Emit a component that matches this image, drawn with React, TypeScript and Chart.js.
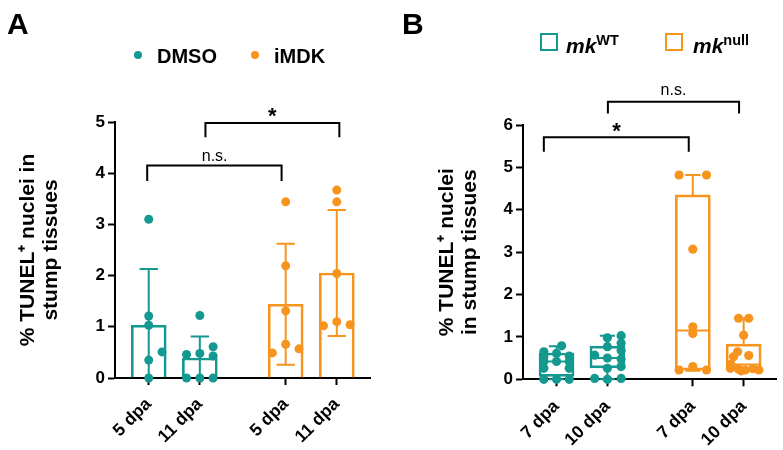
import React, { useEffect, useRef } from 'react';
import { Chart, registerables } from 'chart.js';

Chart.register(...registerables);

const TEAL = '#13998f';
const ORANGE = '#f7941d';
const BLACK = '#000000';
const FONT = "'Liberation Sans', Arial, Helvetica, sans-serif";

// ---------------- Panel A data (mean ± SD with individual points) ----------------
const aCategories = ['5 dpa', '11 dpa', '5 dpa', '11 dpa'];
const aMeans = [1.03, 0.39, 1.44, 2.05];
const aSD = [1.1, 0.42, 1.18, 1.23];
const aDmso5 = [3.1, 1.21, 1.03, 0.51, 0.35, 0];
const aDmso11 = [1.22, 0.61, 0.48, 0.46, 0.43, 0, 0, 0];
const aImdk5 = [3.44, 2.19, 1.31, 0.66, 0.57, 0.49];
const aImdk11 = [3.67, 3.44, 2.04, 1.1, 1.04, 1.02];

// ---------------- Panel B data (box & whiskers, min to max, with points) ----------------
const bCategories = ['7 dpa', '10 dpa', '7 dpa', '10 dpa'];
const bMin = [0, 0, 0.2, 0.2];
const bQ1 = [0.07, 0.27, 0.22, 0.22];
const bMedian = [0.42, 0.5, 1.15, 0.35];
const bQ3 = [0.62, 0.78, 4.35, 0.83];
const bMax = [0.78, 1.03, 4.82, 1.44];
const bWt7 = [0.79, 0.65, 0.61, 0.55, 0.53, 0.42, 0.42, 0.42, 0.26, 0.26, 0, 0, 0];
const bWt10 = [1.03, 0.98, 0.85, 0.77, 0.68, 0.57, 0.5, 0.48, 0.3, 0.26, 0.02, 0.02, 0];
const bNull7 = [4.82, 4.82, 3.07, 1.24, 1.08, 0.3, 0.22, 0.22];
const bNull10 = [1.44, 1.44, 1.04, 0.65, 0.56, 0.53, 0.35, 0.26, 0.24, 0.22, 0.25, 0.22, 0.2];

// ---------------- layout (positions of groups, point jitter, annotation geometry) ----------------
const groupX = [0, 1, 2.68, 3.68];
const X_MIN = -0.66;
const X_MAX = 4.33;

const aDmso5Jit = [0, 0, 0, 0.26, 0, 0];
const aDmso11Jit = [0, 0.26, 0, -0.26, 0.26, -0.26, 0, 0.26];
const aImdk5Jit = [0, 0, 0, 0, 0.26, -0.26];
const aImdk11Jit = [0, 0, 0, 0, 0.26, -0.26];

const bWt7Jit = [0.1, -0.25, 0, 0.25, -0.25, -0.25, 0, 0.25, -0.25, 0.25, -0.25, 0, 0.25];
const bWt10Jit = [0.27, 0, 0.27, 0, 0.27, -0.25, 0, 0.27, 0.27, 0, -0.25, 0.27, 0];
const bNull7Jit = [-0.27, 0.27, 0, 0, 0, 0, -0.27, 0.27];
const bNull10Jit = [-0.1, 0.1, 0, -0.12, 0.1, -0.2, -0.25, -0.26, -0.1, 0.03, 0.18, 0.3, -0.05];

type Bracket = { x1: number; x2: number; y: number; drop: number };
type TextItem = { text: string; x: number; y: number; font: string };

const aBrackets: Bracket[] = [
  { x1: -0.03, x2: 2.6, y: 4.15, drop: 3.85 },
  { x1: 1.11, x2: 3.73, y: 4.98, drop: 4.7 },
];
const aTexts: TextItem[] = [
  { text: 'n.s.', x: 1.29, y: 4.33, font: `16px ${FONT}` },
  { text: '*', x: 2.42, y: 5.1, font: `bold 22px ${FONT}` },
];
const bBrackets: Bracket[] = [
  { x1: -0.25, x2: 2.6, y: 5.71, drop: 5.37 },
  { x1: 1.01, x2: 3.59, y: 6.55, drop: 6.27 },
];
const bTexts: TextItem[] = [
  { text: '*', x: 1.18, y: 5.84, font: `bold 22px ${FONT}` },
  { text: 'n.s.', x: 2.3, y: 6.8, font: `16px ${FONT}` },
];

type Pt = { x: number; y: number | null };

function polylines(lines: [number, number][][]): Pt[] {
  const out: Pt[] = [];
  lines.forEach((ln) => {
    ln.forEach(([x, y]) => out.push({ x, y }));
    out.push({ x: ln[ln.length - 1][0], y: null });
  });
  return out;
}

function pts(values: number[], center: number, jitter: number[]): Pt[] {
  return values.map((v, i) => ({ x: center + jitter[i], y: v }));
}

function bracketLines(list: Bracket[]): [number, number][][] {
  return list.map((b) => [
    [b.x1, b.drop],
    [b.x1, b.y],
    [b.x2, b.y],
    [b.x2, b.drop],
  ]);
}

function lineDs(data: Pt[], color: string, order: number) {
  return {
    type: 'line',
    data,
    borderColor: color,
    backgroundColor: color,
    borderWidth: 2,
    pointRadius: 0,
    fill: false,
    spanGaps: false,
    tension: 0,
    clip: false,
    order,
  };
}

function dotDs(data: Pt[], color: string, radius: number) {
  return {
    type: 'scatter',
    data,
    backgroundColor: color,
    borderColor: color,
    borderWidth: 0,
    pointRadius: radius,
    clip: false,
    order: 1,
  };
}

const groupColors = [TEAL, TEAL, ORANGE, ORANGE];

function errorBarLines(idx: number[]): [number, number][][] {
  const CAP = 0.18;
  const out: [number, number][][] = [];
  idx.forEach((i) => {
    const x = groupX[i];
    const hi = aMeans[i] + aSD[i];
    const loRaw = aMeans[i] - aSD[i];
    const lo = Math.max(0, loRaw);
    out.push([[x, lo], [x, hi]]);
    out.push([[x - CAP, hi], [x + CAP, hi]]);
    if (loRaw > 0) out.push([[x - CAP, lo], [x + CAP, lo]]);
  });
  return out;
}

function whiskerLines(idx: number[]): [number, number][][] {
  const CAP = 0.15;
  const HALF = 0.335;
  const out: [number, number][][] = [];
  idx.forEach((i) => {
    const x = groupX[i];
    out.push([[x, bMin[i]], [x, bQ1[i]]]);
    out.push([[x, bQ3[i]], [x, bMax[i]]]);
    out.push([[x - CAP, bMax[i]], [x + CAP, bMax[i]]]);
    out.push([[x - CAP, bMin[i]], [x + CAP, bMin[i]]]);
    out.push([[x - HALF, bMedian[i]], [x + HALF, bMedian[i]]]);
  });
  return out;
}

function makeTextPlugin(items: TextItem[]) {
  return {
    id: 'sigText',
    afterDatasetsDraw(chart: any) {
      const { ctx } = chart;
      const xs = chart.scales.x;
      const ys = chart.scales.y;
      items.forEach((t) => {
        ctx.save();
        ctx.font = t.font;
        ctx.fillStyle = BLACK;
        ctx.textAlign = 'center';
        ctx.textBaseline = 'middle';
        ctx.fillText(t.text, xs.getPixelForValue(t.x), ys.getPixelForValue(t.y));
        ctx.restore();
      });
    },
  };
}

interface PanelSpec {
  categories: string[];
  yMax: number;
  yTitle: string[];
  titlePad: number;
  yAxisWidth: number;
  xAxisHeight: number;
  xLabelPad: number;
  padding: { left: number; right: number; top: number; bottom: number };
  datasets: any[];
  texts: TextItem[];
}

function buildConfig(spec: PanelSpec): any {
  const tickFont = { family: FONT, size: 17, weight: 'bold' };
  return {
    type: 'bar',
    data: { datasets: spec.datasets },
    options: {
      animation: false,
      responsive: false,
      events: [],
      layout: { padding: spec.padding },
      plugins: {
        legend: { display: false },
        tooltip: { enabled: false },
      },
      scales: {
        x: {
          type: 'linear',
          min: X_MIN,
          max: X_MAX,
          offset: false,
          afterBuildTicks: (s: any) => {
            s.ticks = groupX.map((v) => ({ value: v }));
          },
          afterFit: (s: any) => {
            s.height = spec.xAxisHeight;
          },
          ticks: {
            autoSkip: false,
            maxRotation: 45,
            minRotation: 45,
            color: BLACK,
            font: { family: FONT, size: 17.5, weight: 'bold' },
            padding: spec.xLabelPad,
            callback: (_v: any, i: number) => spec.categories[i],
          },
          grid: {
            display: true,
            drawOnChartArea: false,
            drawTicks: true,
            tickLength: 7,
            tickWidth: 2,
            tickColor: BLACK,
            offset: false,
          },
          border: { display: true, color: BLACK, width: 2 },
        },
        y: {
          type: 'linear',
          min: 0,
          max: spec.yMax,
          afterFit: (s: any) => {
            s.width = spec.yAxisWidth;
          },
          ticks: { stepSize: 1, color: BLACK, font: tickFont, padding: 3 },
          grid: {
            display: true,
            drawOnChartArea: false,
            drawTicks: true,
            tickLength: 7,
            tickWidth: 2,
            tickColor: BLACK,
          },
          border: { display: true, color: BLACK, width: 2 },
          title: {
            display: true,
            text: spec.yTitle,
            color: BLACK,
            font: { family: FONT, size: 21, weight: 'bold', lineHeight: 1.1 },
            padding: { top: spec.titlePad, bottom: 0 },
          },
        },
      },
    },
    plugins: [makeTextPlugin(spec.texts)],
  };
}

const specA: PanelSpec = {
  categories: aCategories,
  yMax: 5,
  yTitle: ['% TUNEL\u207A nuclei in', 'stump tissues'],
  titlePad: 17,
  yAxisWidth: 115,
  xAxisHeight: 72,
  xLabelPad: 9,
  padding: { left: 0, right: 20, top: 122, bottom: 0 },
  datasets: [
    {
      type: 'bar',
      data: groupX.map((x, i) => ({ x, y: aMeans[i] })),
      backgroundColor: 'rgba(255,255,255,0)',
      borderColor: groupColors,
      borderWidth: 2,
      borderSkipped: 'start',
      barThickness: 35,
      order: 3,
    },
    lineDs(polylines(errorBarLines([0, 1])), TEAL, 2),
    lineDs(polylines(errorBarLines([2, 3])), ORANGE, 2),
    dotDs([...pts(aDmso5, groupX[0], aDmso5Jit), ...pts(aDmso11, groupX[1], aDmso11Jit)], TEAL, 4.5),
    dotDs([...pts(aImdk5, groupX[2], aImdk5Jit), ...pts(aImdk11, groupX[3], aImdk11Jit)], ORANGE, 4.5),
    lineDs(polylines(bracketLines(aBrackets)), BLACK, 0),
  ],
  texts: aTexts,
};

const specB: PanelSpec = {
  categories: bCategories,
  yMax: 6,
  yTitle: ['% TUNEL\u207A nuclei', 'in stump tissues'],
  titlePad: 46,
  yAxisWidth: 133,
  xAxisHeight: 70.7,
  xLabelPad: 10,
  padding: { left: 0, right: 6.3, top: 125, bottom: 0 },
  datasets: [
    {
      type: 'bar',
      data: groupX.map((x, i) => ({ x, y: [bQ1[i], bQ3[i]] })),
      backgroundColor: 'rgba(255,255,255,0)',
      borderColor: groupColors,
      borderWidth: 2,
      borderSkipped: false,
      barThickness: 35,
      order: 3,
    },
    lineDs(polylines(whiskerLines([0, 1])), TEAL, 2),
    lineDs(polylines(whiskerLines([2, 3])), ORANGE, 2),
    dotDs([...pts(bWt7, groupX[0], bWt7Jit), ...pts(bWt10, groupX[1], bWt10Jit)], TEAL, 4.6),
    dotDs([...pts(bNull7, groupX[2], bNull7Jit), ...pts(bNull10, groupX[3], bNull10Jit)], ORANGE, 4.6),
    lineDs(polylines(bracketLines(bBrackets)), BLACK, 0),
  ],
  texts: bTexts,
};

function Panel({ spec, left, width }: { spec: PanelSpec; left: number; width: number }) {
  const ref = useRef<HTMLCanvasElement | null>(null);
  useEffect(() => {
    if (!ref.current) return;
    const chart = new Chart(ref.current, buildConfig(spec));
    return () => chart.destroy();
  }, [spec]);
  return (
    <canvas
      ref={ref}
      width={width}
      height={450}
      style={{ position: 'absolute', left, top: 0, width, height: 450, display: 'block' }}
    />
  );
}

const abs = (extra: React.CSSProperties): React.CSSProperties => ({
  position: 'absolute',
  whiteSpace: 'nowrap',
  fontFamily: FONT,
  color: BLACK,
  ...extra,
});

export default function App() {
  return (
    <div style={{ position: 'absolute', left: 0, top: 0, width: 783, height: 450, background: '#fff', overflow: 'hidden' }}>
      <Panel spec={specA} left={0} width={390} />
      <Panel spec={specB} left={390} width={393} />

      {/* panel letters */}
      <div style={abs({ left: 7, top: 9, fontSize: 30, fontWeight: 'bold', lineHeight: '30px' })}>A</div>
      <div style={abs({ left: 402, top: 9, fontSize: 30, fontWeight: 'bold', lineHeight: '30px' })}>B</div>

      {/* legend A */}
      <div style={abs({ left: 134, top: 51, width: 8, height: 8, borderRadius: 4, background: TEAL })} />
      <div style={abs({ left: 157, top: 46, fontSize: 20, fontWeight: 'bold', lineHeight: '20px' })}>DMSO</div>
      <div style={abs({ left: 251, top: 51, width: 8, height: 8, borderRadius: 4, background: ORANGE })} />
      <div style={abs({ left: 274, top: 46, fontSize: 20, fontWeight: 'bold', lineHeight: '20px' })}>iMDK</div>

      {/* legend B */}
      <div style={abs({ left: 540, top: 33, width: 18, height: 18, boxSizing: 'border-box', border: `2px solid ${TEAL}` })} />
      <div style={abs({ left: 566, top: 36, fontSize: 21, fontWeight: 'bold', fontStyle: 'italic', lineHeight: '20px' })}>
        mk<span style={{ fontSize: 14.5, fontStyle: 'normal', position: 'relative', top: -8 }}>WT</span>
      </div>
      <div style={abs({ left: 665, top: 33, width: 18, height: 18, boxSizing: 'border-box', border: `2px solid ${ORANGE}` })} />
      <div style={abs({ left: 693, top: 36, fontSize: 21, fontWeight: 'bold', fontStyle: 'italic', lineHeight: '20px' })}>
        mk<span style={{ fontSize: 14.5, fontStyle: 'normal', position: 'relative', top: -8 }}>null</span>
      </div>
    </div>
  );
}
